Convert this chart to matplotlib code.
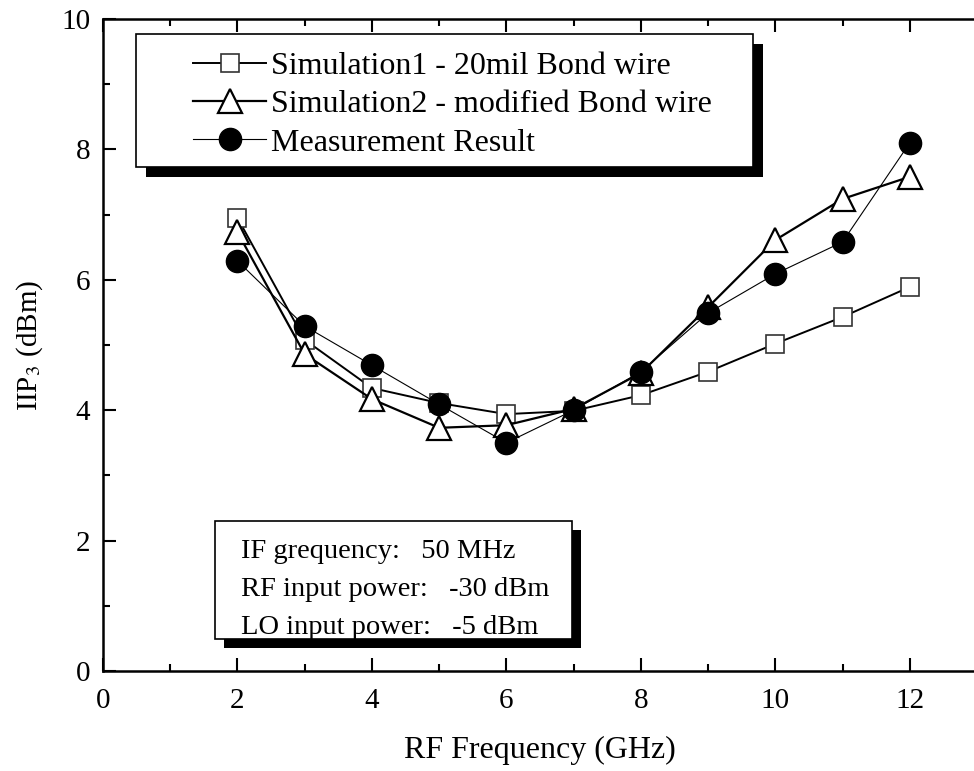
import matplotlib
matplotlib.use('Agg')
import matplotlib.pyplot as plt
from matplotlib.patches import Rectangle
from matplotlib.ticker import MultipleLocator

freq = [2, 3, 4, 5, 6, 7, 8, 9, 10, 11, 12]
sim1 = [6.95, 5.08, 4.34, 4.11, 3.94, 3.99, 4.23, 4.59, 5.02, 5.43, 5.89]
sim2 = [6.73, 4.86, 4.17, 3.73, 3.77, 4.02, 4.57, 5.58, 6.61, 7.24, 7.58]
meas = [6.29, 5.29, 4.69, 4.09, 3.50, 4.00, 4.59, 5.49, 6.09, 6.58, 8.10]

labels = ['Simulation1 - 20mil Bond wire',
          'Simulation2 - modified Bond wire',
          'Measurement Result']
notes = ['IF grequency:   50 MHz',
         'RF input power:   -30 dBm',
         'LO input power:   -5 dBm']

plt.rcParams['font.family'] = 'Liberation Serif'
plt.rcParams['mathtext.fontset'] = 'stix'


def shadow_box(ax, x0, y0, w, h, off):
    # white framed box with a solid black drop shadow (axes coords)
    ax.add_patch(Rectangle((x0 + off / 874, y0 - off / 652), w, h,
                           transform=ax.transAxes, facecolor='black',
                           zorder=5, clip_on=False))
    ax.add_patch(Rectangle((x0, y0), w, h, transform=ax.transAxes,
                           facecolor='white', edgecolor='black', lw=1.2,
                           zorder=5.5))


def main():
    fig = plt.figure(figsize=(9.74, 7.71), dpi=100)
    W, H = 974, 771
    # axes: x 0..13 -> 103..977 px, y 0..10 -> 671..19 px
    ax = fig.add_axes([103 / W, (H - 671) / H, 874 / W, 652 / H])

    ax.plot(freq, sim1, '-', color='black', lw=1.4, marker='s', ms=13,
            mfc='white', mec='#333333', mew=1.2, label=labels[0], zorder=3)
    ax.plot(freq, sim2, '-', color='black', lw=1.6, marker='^', ms=17,
            mfc='white', mec='black', mew=1.6, label=labels[1], zorder=3)
    ax.plot(freq, meas, '-', color='black', lw=0.8, marker='o', ms=16,
            mfc='black', mec='black', label=labels[2], zorder=3)

    ax.set_xlim(0, 13)
    ax.set_ylim(0, 10)
    ax.xaxis.set_major_locator(MultipleLocator(2))
    ax.xaxis.set_minor_locator(MultipleLocator(1))
    ax.yaxis.set_major_locator(MultipleLocator(2))
    ax.yaxis.set_minor_locator(MultipleLocator(1))
    ax.tick_params(which='both', direction='in', top=True, right=False,
                   labelsize=21, width=1.5)
    ax.tick_params(which='major', length=9.4)
    ax.tick_params(which='minor', length=5)
    ax.tick_params(axis='x', which='both', pad=12)
    ax.tick_params(axis='y', which='both', pad=9)
    for s in ['left', 'bottom', 'top']:
        ax.spines[s].set_linewidth(1.8)
    ax.spines['right'].set_visible(False)

    ax.set_xlabel('RF Frequency (GHz)', fontsize=23, labelpad=16)
    ax.set_ylabel('IIP$_3$ (dBm)', fontsize=21, labelpad=12)

    # legend frame drawn by hand, legend itself frameless
    shadow_box(ax, 0.0378, 0.773, 0.706, 0.204, 10)
    leg = ax.legend(loc='upper left', bbox_to_anchor=(0.103, 0.950),
                    fontsize=23, handlelength=2.3, handletextpad=0.15,
                    labelspacing=0.28, borderpad=0, borderaxespad=0,
                    frameon=False)
    leg.set_zorder(6)

    # note box
    x0, y0, w, h = 0.128, 0.049, 0.409, 0.181
    shadow_box(ax, x0, y0, w, h, 9)
    for i, t in enumerate(notes):
        ax.text(x0 + 0.03, y0 + h - 0.047 - i * 0.058, t,
                transform=ax.transAxes, fontsize=20.5, va='center',
                ha='left', zorder=7)

    fig.savefig('out.png', dpi=100)


if __name__ == '__main__':
    main()
